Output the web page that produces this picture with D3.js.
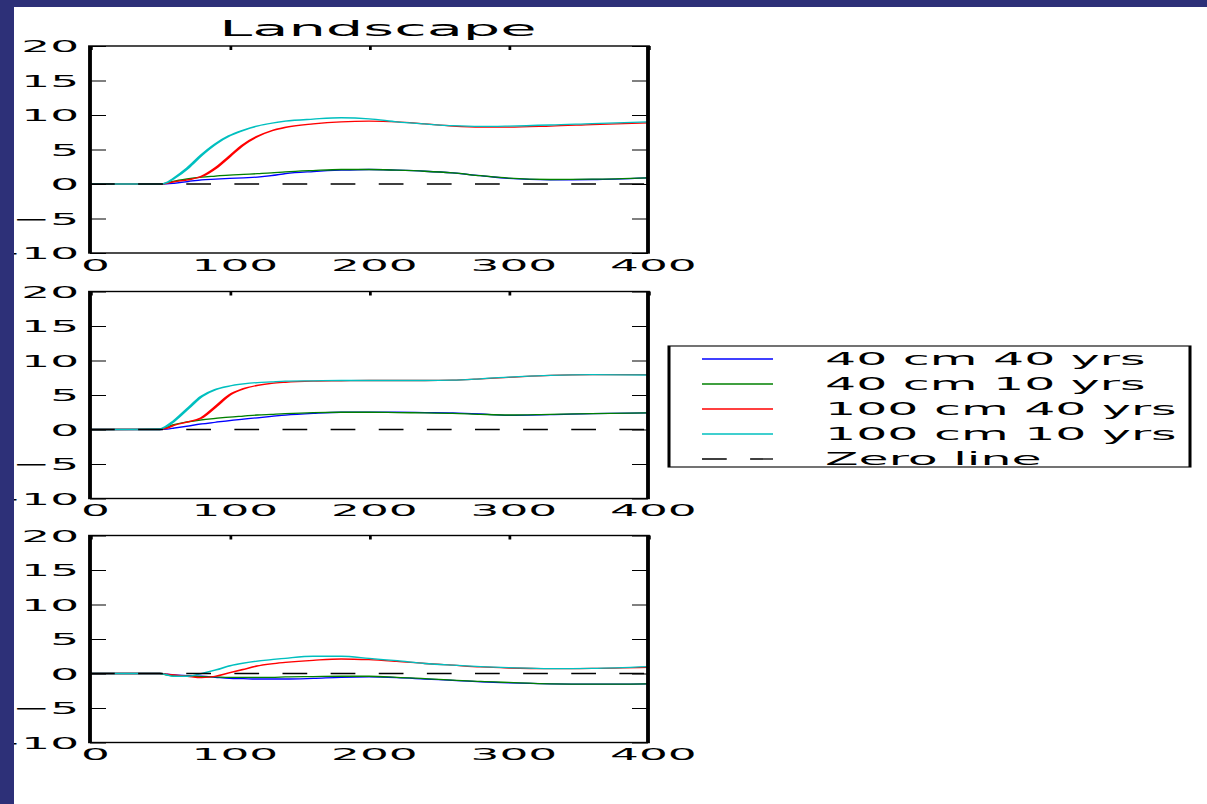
<!DOCTYPE html>
<html>
<head>
<meta charset="utf-8">
<script src="https://cdn.jsdelivr.net/npm/d3@7"></script>
<style>
  html, body { margin: 0; padding: 0; overflow: hidden; background: #2d3078; }
  svg { display: block; }
  text { font-family: "DejaVu Sans", sans-serif; fill: #000; }
</style>
</head>
<body>
<script>
// Time axis shared by every series
const xGrid = [0, 50, 55, 60, 70, 80, 90, 100, 110, 120, 130, 140, 160, 180, 200, 220, 240, 260, 280, 300, 330, 360, 400];
const xTicks = [0, 100, 200, 300, 400];
const yTicks = [-10, -5, 0, 5, 10, 15, 20];

const seriesNames = ["40 cm 40 yrs", "40 cm 10 yrs", "100 cm 40 yrs", "100 cm 10 yrs"];
const seriesColors = ["#0000ff", "#008000", "#ff0000", "#00bfbf"];
const zeroLabel = "Zero line";
const titleText = "Landscape";

// Panel 1
const p1_40cm40 = [0, 0, 0.02, 0.1, 0.35, 0.6, 0.7, 0.8, 0.9, 1.0, 1.2, 1.5, 1.8, 2.0, 2.1, 2.0, 1.85, 1.6, 1.2, 0.8, 0.6, 0.65, 0.9];
const p1_40cm10 = [0, 0, 0.15, 0.4, 0.75, 1.0, 1.15, 1.3, 1.4, 1.5, 1.6, 1.75, 1.95, 2.1, 2.1, 2.0, 1.85, 1.6, 1.2, 0.85, 0.65, 0.7, 0.9];
const p1_100cm40 = [0, 0, 0.1, 0.3, 0.6, 1.1, 2.3, 4.0, 5.7, 6.9, 7.7, 8.2, 8.7, 9.0, 9.1, 9.0, 8.7, 8.4, 8.25, 8.25, 8.4, 8.6, 8.85];
const p1_100cm10 = [0, 0, 0.2, 0.8, 2.3, 4.2, 5.8, 7.0, 7.8, 8.4, 8.8, 9.1, 9.4, 9.6, 9.45, 9.0, 8.7, 8.45, 8.35, 8.4, 8.55, 8.75, 9.0];

// Panel 2
const p2_40cm40 = [0, 0, 0.05, 0.2, 0.5, 0.8, 1.05, 1.3, 1.5, 1.7, 1.9, 2.1, 2.35, 2.5, 2.5, 2.5, 2.45, 2.4, 2.25, 2.05, 2.15, 2.3, 2.4];
const p2_40cm10 = [0, 0, 0.3, 0.7, 1.1, 1.4, 1.6, 1.8, 1.95, 2.1, 2.2, 2.3, 2.45, 2.5, 2.5, 2.45, 2.4, 2.35, 2.2, 2.1, 2.2, 2.3, 2.4];
const p2_100cm40 = [0, 0.05, 0.2, 0.6, 1.1, 1.7, 3.3, 5.0, 5.9, 6.4, 6.7, 6.85, 7.0, 7.05, 7.1, 7.1, 7.1, 7.15, 7.35, 7.55, 7.85, 7.95, 7.95];
const p2_100cm10 = [0, 0.1, 0.5, 1.2, 3.0, 4.8, 5.8, 6.3, 6.6, 6.8, 6.9, 7.0, 7.05, 7.1, 7.1, 7.1, 7.1, 7.15, 7.35, 7.6, 7.85, 7.95, 7.9];

// Panel 3
const p3_40cm40 = [0, 0, -0.1, -0.2, -0.3, -0.4, -0.55, -0.7, -0.75, -0.8, -0.8, -0.8, -0.7, -0.55, -0.5, -0.6, -0.8, -1.0, -1.2, -1.35, -1.5, -1.55, -1.5];
const p3_40cm10 = [0, 0, -0.2, -0.35, -0.4, -0.45, -0.5, -0.55, -0.55, -0.55, -0.55, -0.5, -0.45, -0.4, -0.4, -0.55, -0.75, -0.95, -1.15, -1.3, -1.5, -1.55, -1.5];
const p3_100cm40 = [0, 0, -0.1, -0.2, -0.4, -0.6, -0.4, 0.1, 0.6, 1.1, 1.4, 1.6, 1.9, 2.1, 2.0, 1.75, 1.45, 1.2, 0.95, 0.8, 0.7, 0.75, 0.9];
const p3_100cm10 = [0, 0, -0.2, -0.4, -0.4, 0.0, 0.5, 1.1, 1.5, 1.8, 2.0, 2.2, 2.5, 2.5, 2.2, 1.85, 1.45, 1.2, 1.0, 0.85, 0.7, 0.75, 1.0];

const zeroX = [0, 400];
const zeroY = [0, 0];

const panels = [
  [p1_40cm40, p1_40cm10, p1_100cm40, p1_100cm10],
  [p2_40cm40, p2_40cm10, p2_100cm40, p2_100cm10],
  [p3_40cm40, p3_40cm10, p3_100cm40, p3_100cm10]
];

// ---- layout (screen pixels) ----
const W = 1207, H = 804;
const sx = 2.75;                 // horizontal stretch applied to the whole figure
const X = v => v / sx;           // screen x -> drawing units
const plotLeft = 90, plotRight = 648;
const panelTops = [46, 291.5, 535.5];
const panelH = 207;
const tickFont = 16.5, legendFont = 17.8, titleFont = 21.5;

const svg = d3.select("body").append("svg").attr("width", W).attr("height", H);
svg.append("rect").attr("width", W).attr("height", H).attr("fill", "#2d3078");
svg.append("rect").attr("x", 14).attr("y", 7).attr("width", W - 14).attr("height", H - 7).attr("fill", "#fff");

const g = svg.append("g").attr("transform", `scale(${sx},1)`);

const x = d3.scaleLinear().domain([0, 400]).range([X(plotLeft), X(plotRight)]);

panels.forEach((series, pi) => {
  const top = panelTops[pi];
  const y = d3.scaleLinear().domain([-10, 20]).range([top + panelH, top]);
  const pg = g.append("g");

  const line = d3.line()
    .x((d, i) => x(xGrid[i]))
    .y(d => y(d))
    .curve(d3.curveMonotoneX);

  series.forEach((vals, si) => {
    pg.append("path")
      .attr("d", line(vals))
      .attr("fill", "none")
      .attr("stroke", seriesColors[si])
      .attr("stroke-width", 1.3);
  });

  // dashed zero reference
  const zline = d3.line().x((d, i) => x(zeroX[i])).y(d => y(d));
  pg.append("path")
    .attr("d", zline(zeroY))
    .attr("fill", "none")
    .attr("stroke", "#000")
    .attr("stroke-width", 1.3)
    .attr("stroke-dasharray", "9,8.5");

  // axes
  const styleAxis = sel => {
    sel.select(".domain").remove();
    sel.selectAll(".tick line").attr("stroke", "#000").attr("stroke-width", 1);
    sel.selectAll(".tick text").attr("fill", "#000")
      .style("font-family", '"DejaVu Sans", sans-serif');
  };

  pg.append("g")
    .attr("transform", `translate(${X(plotLeft)},0)`)
    .call(d3.axisLeft(y).tickValues(yTicks).tickSize(-X(16)).tickPadding(4))
    .call(styleAxis)
    .call(s => s.selectAll(".tick text").attr("font-size", tickFont).attr("dy", "0.36em"));

  pg.append("g")
    .attr("transform", `translate(${X(plotRight)},0)`)
    .call(d3.axisRight(y).tickValues(yTicks).tickSize(-X(16)).tickFormat(""))
    .call(styleAxis);

  pg.append("g")
    .attr("transform", `translate(0,${top})`)
    .call(d3.axisTop(x).tickValues(xTicks).tickSize(-4).tickFormat(""))
    .call(styleAxis);

  pg.append("g")
    .attr("transform", `translate(0,${top + panelH})`)
    .call(d3.axisBottom(x).tickValues(xTicks).tickSize(0).tickPadding(6))
    .call(styleAxis)
    .call(s => s.selectAll(".tick text").attr("font-size", tickFont).attr("dx", X(4)));

  // frame
  pg.append("rect")
    .attr("x", X(plotLeft)).attr("y", top)
    .attr("width", X(plotRight) - X(plotLeft)).attr("height", panelH)
    .attr("fill", "none").attr("stroke", "#000").attr("stroke-width", 1.4);
});

// title
g.append("text")
  .attr("x", X(378)).attr("y", 36)
  .attr("text-anchor", "middle")
  .attr("font-size", titleFont)
  .text(titleText);

// legend
const lg = g.append("g");
lg.append("rect")
  .attr("x", X(669)).attr("y", 346)
  .attr("width", X(1190) - X(669)).attr("height", 121)
  .attr("fill", "#fff").attr("stroke", "#000").attr("stroke-width", 1.1);

const legendItems = seriesNames.map((n, i) => ({ name: n, color: seriesColors[i], dash: null }))
  .concat([{ name: zeroLabel, color: "#000", dash: "9,8.5" }]);

legendItems.forEach((it, i) => {
  const cy = 359 + i * 25;
  lg.append("line")
    .attr("x1", X(702)).attr("x2", X(773))
    .attr("y1", cy).attr("y2", cy)
    .attr("stroke", it.color).attr("stroke-width", 1.3)
    .attr("stroke-dasharray", it.dash);
  lg.append("text")
    .attr("x", X(825)).attr("y", cy)
    .attr("dy", "0.36em")
    .attr("font-size", legendFont)
    .text(it.name);
});

// page border strips drawn over the figure edge
svg.append("rect").attr("x", 0).attr("y", 0).attr("width", 14).attr("height", H).attr("fill", "#2d3078");
svg.append("rect").attr("x", 0).attr("y", 0).attr("width", W).attr("height", 7).attr("fill", "#2d3078");
</script>
</body>
</html>
